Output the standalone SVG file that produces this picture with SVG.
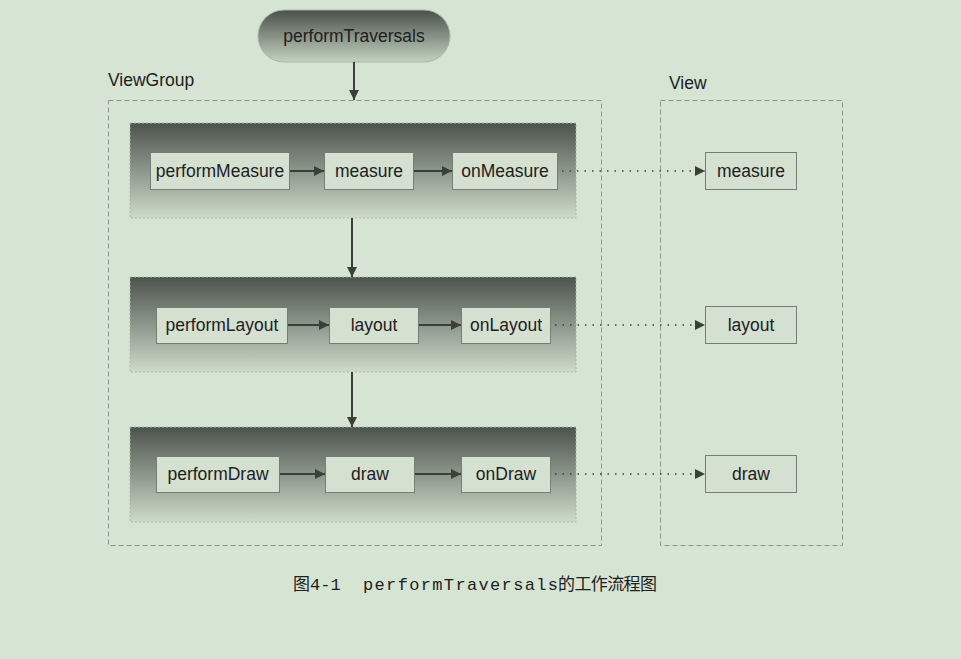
<svg xmlns="http://www.w3.org/2000/svg" width="961" height="659" viewBox="0 0 961 659">
<defs>
<linearGradient id="band" x1="0" y1="0" x2="0" y2="1">
<stop offset="0" stop-color="#4d534d"/>
<stop offset="0.5" stop-color="#8c978b"/>
<stop offset="1" stop-color="#cddbc9"/>
</linearGradient>
<linearGradient id="pill" x1="0" y1="0" x2="0" y2="1">
<stop offset="0" stop-color="#4a504a"/>
<stop offset="1" stop-color="#c3d2bf"/>
</linearGradient>
<marker id="ah" viewBox="0 0 10 10" refX="10" refY="5" markerWidth="10" markerHeight="10" markerUnits="userSpaceOnUse" orient="auto">
<path d="M0,0 L10,5 L0,10 z" fill="#3a3f3a"/>
</marker>
</defs>
<style>
.lbl{font-family:"Liberation Sans",Arial,sans-serif;font-size:17.5px;fill:#1e201e}
.box{fill:#d4e1d0;stroke:#737f72;stroke-width:1}
.band{fill:url(#band);stroke:#a9b6a6;stroke-width:1;stroke-dasharray:2 2}
.cont{fill:none;stroke:#8a948a;stroke-width:1;stroke-dasharray:5 3}
.ar{stroke:#3a3f3a;stroke-width:2;fill:none;marker-end:url(#ah)}
.dot{stroke:#3a3f3a;stroke-width:1.5;fill:none;stroke-dasharray:1.5 6;marker-end:url(#ah)}
</style>
<rect width="961" height="659" fill="#d6e5d3"/>

<g id="viewgroup">
<rect class="cont" x="108.5" y="100.5" width="493" height="445"/>
<text class="lbl" x="108" y="86">ViewGroup</text>
</g>
<g id="view">
<rect class="cont" x="660.5" y="100.5" width="182" height="445"/>
<text class="lbl" x="669" y="89">View</text>
</g>

<g id="performTraversals">
<rect x="258" y="10" width="192" height="52" rx="26" fill="url(#pill)" stroke="#a8b5a5"/>
<text class="lbl" x="354" y="42" text-anchor="middle">performTraversals</text>
</g>

<g id="band-measure"><rect class="band" x="130" y="123" width="446" height="95"/></g>
<g id="band-layout"><rect class="band" x="130" y="277" width="446" height="95"/></g>
<g id="band-draw"><rect class="band" x="130" y="427" width="446" height="95"/></g>

<g id="performMeasure"><rect class="box" x="150.5" y="152.5" width="139" height="37"/><text class="lbl" x="220" y="177" text-anchor="middle">performMeasure</text></g>
<g id="measure"><rect class="box" x="324.5" y="152.5" width="89" height="37"/><text class="lbl" x="369" y="177" text-anchor="middle">measure</text></g>
<g id="onMeasure"><rect class="box" x="452.5" y="152.5" width="105" height="37"/><text class="lbl" x="505" y="177" text-anchor="middle">onMeasure</text></g>
<g id="view-measure"><rect class="box" x="705.5" y="152.5" width="91" height="37"/><text class="lbl" x="751" y="177" text-anchor="middle">measure</text></g>

<g id="performLayout"><rect class="box" x="156.5" y="307.5" width="131" height="36"/><text class="lbl" x="222" y="331" text-anchor="middle">performLayout</text></g>
<g id="layout"><rect class="box" x="329.5" y="307.5" width="89" height="36"/><text class="lbl" x="374" y="331" text-anchor="middle">layout</text></g>
<g id="onLayout"><rect class="box" x="461.5" y="307.5" width="89" height="36"/><text class="lbl" x="506" y="331" text-anchor="middle">onLayout</text></g>
<g id="view-layout"><rect class="box" x="705.5" y="306.5" width="91" height="37"/><text class="lbl" x="751" y="331" text-anchor="middle">layout</text></g>

<g id="performDraw"><rect class="box" x="156.5" y="456.5" width="123" height="36"/><text class="lbl" x="218" y="480" text-anchor="middle">performDraw</text></g>
<g id="draw"><rect class="box" x="325.5" y="456.5" width="89" height="36"/><text class="lbl" x="370" y="480" text-anchor="middle">draw</text></g>
<g id="onDraw"><rect class="box" x="461.5" y="456.5" width="89" height="36"/><text class="lbl" x="506" y="480" text-anchor="middle">onDraw</text></g>
<g id="view-draw"><rect class="box" x="705.5" y="455.5" width="91" height="37"/><text class="lbl" x="751" y="480" text-anchor="middle">draw</text></g>

<g id="connectors">
<line class="ar" x1="354" y1="62" x2="354" y2="100"/>
<line class="ar" x1="352" y1="218" x2="352" y2="277"/>
<line class="ar" x1="352" y1="372" x2="352" y2="427"/>
<line class="ar" x1="290" y1="171" x2="324" y2="171"/>
<line class="ar" x1="414" y1="171" x2="452" y2="171"/>
<line class="ar" x1="288" y1="325" x2="329" y2="325"/>
<line class="ar" x1="419" y1="325" x2="461" y2="325"/>
<line class="ar" x1="280" y1="474" x2="325" y2="474"/>
<line class="ar" x1="415" y1="474" x2="461" y2="474"/>
<line class="dot" x1="562" y1="171" x2="705" y2="171"/>
<line class="dot" x1="555" y1="325" x2="705" y2="325"/>
<line class="dot" x1="555" y1="474" x2="705" y2="474"/>
</g>

<text style="font-family:'Liberation Mono','Noto Sans CJK SC',monospace;font-size:17px;fill:#1e201e" y="590"><tspan x="293">图4-1</tspan><tspan x="363" textLength="195" lengthAdjust="spacing">performTraversals</tspan><tspan x="558" textLength="99" lengthAdjust="spacing">的工作流程图</tspan></text>
</svg>
